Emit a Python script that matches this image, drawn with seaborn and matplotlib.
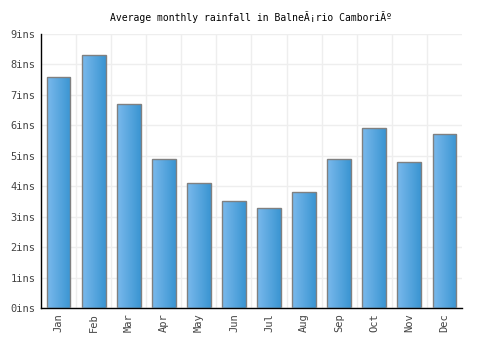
import numpy as np
import pandas as pd
import seaborn as sns
import matplotlib.pyplot as plt
from matplotlib.colors import LinearSegmentedColormap
from matplotlib.ticker import MultipleLocator, FixedLocator

months = ['Jan', 'Feb', 'Mar', 'Apr', 'May', 'Jun', 'Jul', 'Aug', 'Sep', 'Oct', 'Nov', 'Dec']
rainfall = [7.6, 8.3, 6.7, 4.9, 4.1, 3.5, 3.3, 3.8, 4.9, 5.9, 4.8, 5.7]
y_ticks = [0, 1, 2, 3, 4, 5, 6, 7, 8, 9]
y_labels = [f'{v}ins' for v in y_ticks]
title = 'Average monthly rainfall in BalneÃ¡rio CamboriÃº'

df = pd.DataFrame({'month': months, 'rain': rainfall})

sns.set_style('white')
plt.rcParams['font.family'] = ['DejaVu Sans Mono']

fig = plt.figure(figsize=(5, 3.5), dpi=100)
ax = fig.add_axes([0.082, 0.12, 0.842, 0.783])

ax = sns.barplot(data=df, x='month', y='rain', width=0.68, color='#4fa3e0',
                 edgecolor='#808080', linewidth=1.0, ax=ax, zorder=3)

# gradient fill, light on the left to darker on the right
cmap = LinearSegmentedColormap.from_list('bar', ['#7ab9ec', '#3a95d2'])
grad = np.linspace(0, 1, 64).reshape(1, -1)
for p in ax.patches:
    x0, y0 = p.get_x(), p.get_y()
    w, h = p.get_width(), p.get_height()
    im = ax.imshow(grad, cmap=cmap, aspect='auto', extent=[x0, x0 + w, y0, y0 + h],
                   zorder=2.5, interpolation='bicubic')
    im.set_clip_path(p)
    p.set_facecolor('none')

ax.set_xlim(-0.5, len(months) - 0.5)
ax.set_ylim(0, 9)
ax.set_yticks(y_ticks)
ax.set_yticklabels(y_labels)
ax.xaxis.set_minor_locator(FixedLocator(np.arange(0.5, len(months) - 0.5, 1)))
ax.grid(True, which='minor', axis='x', color='#eeeeee', linewidth=1, zorder=0)
ax.grid(True, which='major', axis='y', color='#eeeeee', linewidth=1, zorder=0)
ax.set_axisbelow(True)

ax.tick_params(axis='both', which='both', length=0, labelsize=7.5, colors='#444444', pad=4)
plt.setp(ax.get_xticklabels(), rotation=90)
ax.set_xlabel('')
ax.set_ylabel('')
ax.set_title(title, fontsize=7, color='#000000', pad=9)

for s in ['top', 'right']:
    ax.spines[s].set_visible(False)
for s in ['left', 'bottom']:
    ax.spines[s].set_color('black')
    ax.spines[s].set_linewidth(1)

fig.savefig('out.png', dpi=100)
